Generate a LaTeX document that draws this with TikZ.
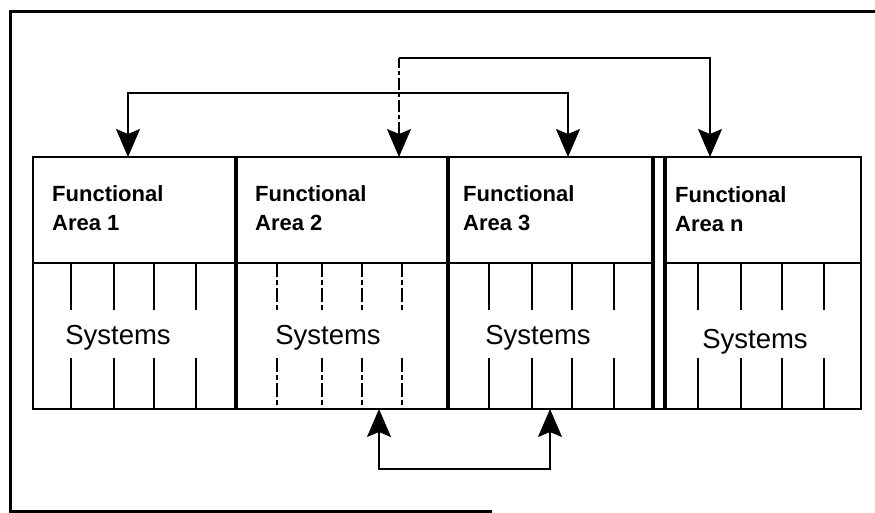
\documentclass[tikz,border=0pt]{standalone}
\usepackage{fontspec}
\setmainfont{Liberation Sans}
\usetikzlibrary{arrows.meta}

\tikzset{
  frameline/.style={line width=3pt, line cap=rect},
  cell/.style={draw, line width=1.7pt, minimum height=#1, inner sep=0pt, outer sep=0pt},
  divider/.style={line width=4.4pt},
  sysline/.style={line width=1.1pt},
  faded/.style={line width=1.1pt, dash pattern=on 14pt off 3pt on 5pt off 3pt},
  conn/.style={line width=1.2pt},
  tip/.tip={Stealth[length=28pt, width=24pt, inset=5pt]},
  arealabel/.style={font=\bfseries\fontsize{22}{26}\selectfont, anchor=base west, inner sep=0pt},
  syslabel/.style={font=\fontsize{27.5}{32}\selectfont, anchor=base, inner sep=0pt},
}

\begin{document}
\begin{tikzpicture}[x=1pt, y=-1pt]
\useasboundingbox (0,0) rectangle (875,513);

% outer frame (left, top and bottom rules)
\draw[frameline] (875,12) -- (10,12) -- (10,511) -- (490,511);

% functional area cells (top) and system cells (bottom)
\node[cell=106pt, minimum width=203pt, anchor=north west] (fa1) at (33,157) {};
\node[cell=106pt, minimum width=212pt, anchor=north west] (fa2) at (236,157) {};
\node[cell=106pt, minimum width=205pt, anchor=north west] (fa3) at (448,157) {};
\node[cell=106pt, minimum width=196pt, anchor=north west] (fan) at (665,157) {};
\node[cell=146pt, minimum width=203pt, anchor=north west] (sy1) at (33,263) {};
\node[cell=146pt, minimum width=212pt, anchor=north west] (sy2) at (236,263) {};
\node[cell=146pt, minimum width=205pt, anchor=north west] (sy3) at (448,263) {};
\node[cell=146pt, minimum width=196pt, anchor=north west] (syn) at (665,263) {};
\draw[line width=1.7pt] (fa3.north east) -- (fan.north west);
\draw[line width=1.7pt] (sy3.south east) -- (syn.south west);

% heavy dividers between the areas
\draw[divider] (fa2.north west) -- (sy2.south west);
\draw[divider] (fa3.north west) -- (sy3.south west);
\draw[divider] (653,157) -- (653,409);
\draw[divider] (fan.north west) -- (syn.south west);

% area captions
\node[arealabel] (l1a) at (52,202) {Functional};
\node[arealabel] (l1b) at (52,230) {Area 1};
\node[arealabel] (l2a) at (255,202) {Functional};
\node[arealabel] (l2b) at (255,230) {Area 2};
\node[arealabel] (l3a) at (463,202) {Functional};
\node[arealabel] (l3b) at (463,230) {Area 3};
\node[arealabel] (lna) at (675,203) {Functional};
\node[arealabel] (lnb) at (675,231) {Area n};

% system captions
\node[syslabel] (s1) at (118,344) {Systems};
\node[syslabel] (s2) at (328,344) {Systems};
\node[syslabel] (s3) at (538,344) {Systems};
\node[syslabel] (sn) at (755,348) {Systems};

% column rules inside the system cells, broken around the captions
\foreach \x in {71,114,154,196,489,532,572,614,698,741,782,824}
  \draw[sysline] (\x,263) -- (\x,310) (\x,358) -- (\x,409);
\foreach \x in {277,322,362,402}
  \draw[faded] (\x,263) -- (\x,310) (\x,358) -- (\x,409);

% arrow ends on the cell edges
\coordinate (t1) at (128,157);
\coordinate (t2) at (399,157);
\coordinate (t3) at (568,157);
\coordinate (tn) at (710,157);
\coordinate (b2) at (379,409);
\coordinate (b3) at (550,409);

% links between functional areas
\draw[conn, tip-tip] (t1) -- ++(0,-64) -| (t3);
\draw[conn, dash pattern=on 12pt off 3pt on 4pt off 3pt, tip-] (t2) -- ++(0,-99) coordinate (c2);
\draw[conn, -tip] (c2) -| (tn);

% link between system cells
\draw[conn, tip-tip] (b2) -- ++(0,60) -| (b3);
\end{tikzpicture}
\end{document}
